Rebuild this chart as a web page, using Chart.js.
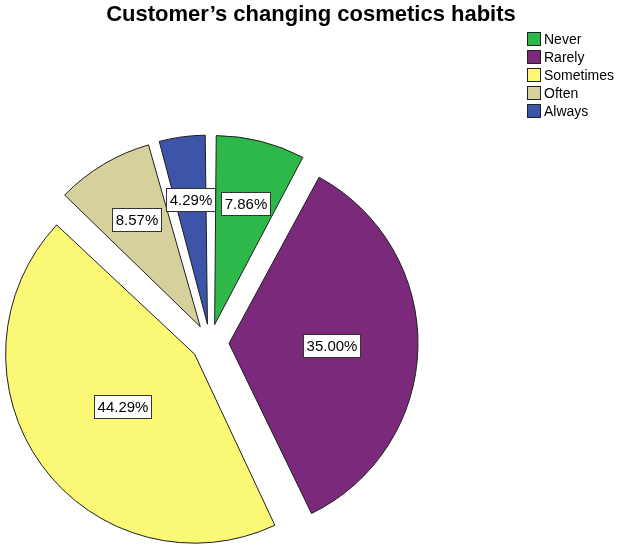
<!DOCTYPE html>
<html>
<head>
<meta charset="utf-8">
<script src="https://cdn.jsdelivr.net/npm/chart.js@4.4.0/dist/chart.umd.min.js"></script>
<style>
    html, body { margin: 0; padding: 0; background: #ffffff; }
    #wrap { width: 617px; height: 547px; }
</style>
</head>
<body>
<div id="wrap"><canvas id="habitsPie"></canvas></div>
<script>
// Habitudes cosmétiques - répartition des réponses
const titleText = 'Customer’s changing cosmetics habits';
const categories = ['Never', 'Rarely', 'Sometimes', 'Often', 'Always'];
const percents = [7.86, 35.00, 44.29, 8.57, 4.29];
const sliceColors = ['#2fb84a', '#7b2a7b', '#fbf876', '#d6d09c', '#3c55a8'];

const FONT = '"Liberation Sans", Arial, sans-serif';
const RADIUS = 189;
// écart des parts (Chart.js déplace l'arc de offset / 4)
const EXPLODE = 19;

// Chart.js agrandit le rayon des parts décalées : on compense pour garder un rayon égal
const equalRadiusPlugin = {
    id: 'equalRadius',
    afterDatasetUpdate(chart, args) {
        chart.getDatasetMeta(args.index).data.forEach(arc => {
            const circ = arc.endAngle - arc.startAngle;
            const fix = 1 - Math.sin(Math.min(Math.PI, circ));
            arc.outerRadius = RADIUS - EXPLODE * fix;
        });
    }
};

// Titre, légende et étiquettes de pourcentage dessinés sur le canvas
const decorPlugin = {
    id: 'decor',
    afterDraw(chart) {
        const ctx = chart.ctx;
        ctx.save();

        // titre
        ctx.fillStyle = '#000000';
        ctx.font = 'bold 22px ' + FONT;
        ctx.textAlign = 'center';
        ctx.textBaseline = 'middle';
        ctx.fillText(titleText, 311, 15);

        // légende
        ctx.font = '14px ' + FONT;
        ctx.textAlign = 'left';
        categories.forEach((name, i) => {
            const y = 39 + i * 18;
            ctx.fillStyle = sliceColors[i];
            ctx.fillRect(527.5, y - 6.5, 13, 13);
            ctx.strokeStyle = '#222222';
            ctx.lineWidth = 1;
            ctx.strokeRect(527.5, y - 6.5, 13, 13);
            ctx.fillStyle = '#000000';
            ctx.fillText(name, 544, y + 1);
        });

        // étiquettes au centre de gravité de chaque part
        const meta = chart.getDatasetMeta(0);
        ctx.font = '15px ' + FONT;
        ctx.textAlign = 'center';
        meta.data.forEach((arc, i) => {
            const p = arc.getProps(['x', 'y', 'startAngle', 'endAngle'], true);
            const mid = (p.startAngle + p.endAngle) / 2;
            const half = (p.endAngle - p.startAngle) / 2;
            const d = 2 * RADIUS * Math.sin(half) / (3 * half) + EXPLODE;
            const cx = p.x + Math.cos(mid) * d;
            const cy = p.y + Math.sin(mid) * d;
            const txt = percents[i].toFixed(2) + '%';
            const w = Math.round(ctx.measureText(txt).width) + 6;
            const h = 23;
            const bx = Math.round(cx - w / 2) + 0.5;
            const by = Math.round(cy - h / 2) + 0.5;
            ctx.fillStyle = '#ffffff';
            ctx.fillRect(bx, by, w, h);
            ctx.strokeStyle = '#333333';
            ctx.strokeRect(bx, by, w, h);
            ctx.fillStyle = '#000000';
            ctx.fillText(txt, bx + w / 2, by + h / 2 + 1);
        });
        ctx.restore();
    }
};

new Chart(document.getElementById('habitsPie').getContext('2d'), {
    type: 'pie',
    data: {
        labels: categories,
        datasets: [{
            data: percents,
            backgroundColor: sliceColors,
            borderColor: '#1e1e1e',
            borderWidth: 1,
            offset: EXPLODE * 4
        }]
    },
    options: {
        responsive: true,
        maintainAspectRatio: false,
        animation: false,
        events: [],
        radius: RADIUS,
        layout: { padding: { left: 11, right: 208, top: 144, bottom: 5 } },
        plugins: {
            legend: { display: false },
            title: { display: false },
            tooltip: { enabled: false }
        }
    },
    plugins: [equalRadiusPlugin, decorPlugin]
});
</script>
</body>
</html>
